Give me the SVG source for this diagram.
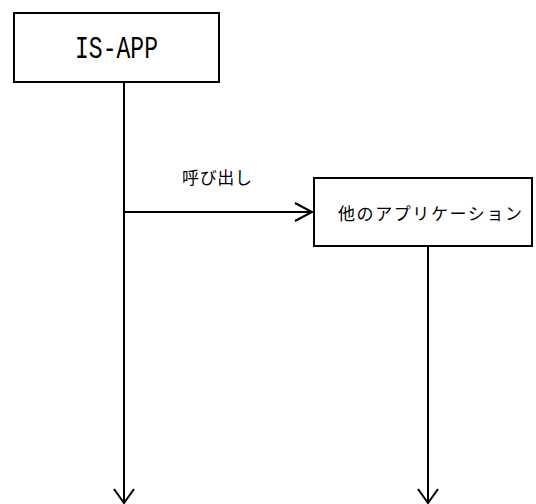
<svg xmlns="http://www.w3.org/2000/svg" width="536" height="504" viewBox="0 0 536 504">
<style>
.box{fill:#fff;stroke:#000;stroke-width:2}
.ln{fill:none;stroke:#000;stroke-width:2}
.jp{font-family:"Noto Sans CJK JP","Noto Sans",sans-serif;font-size:17px;fill:#000}
.mono{font-family:"Liberation Mono","DejaVu Sans Mono",monospace;font-size:22px;fill:#000}
</style>
<rect width="536" height="504" fill="#fff"/>
<g id="connectors">
<line class="ln" x1="124" y1="82" x2="124" y2="503"/>
<polyline class="ln" points="114,489 124,503 134,489"/>
<line class="ln" x1="428" y1="246" x2="428" y2="503"/>
<polyline class="ln" points="418,489 428,503 438,489"/>
<line class="ln" x1="124" y1="212" x2="312" y2="212"/>
<polyline class="ln" points="295,203 312,212 295,221"/>
<text class="jp" x="182" y="184" textLength="70" lengthAdjust="spacing">呼び出し</text>
</g>
<g id="is-app">
<rect class="box" x="14" y="13" width="205" height="69"/>
<text class="mono" transform="translate(75,58) scale(1,1.4)" x="0" y="0" textLength="83" lengthAdjust="spacingAndGlyphs">IS-APP</text>
</g>
<g id="other-app">
<rect class="box" x="314" y="178" width="218" height="68"/>
<text class="jp" x="338" y="220" textLength="184" lengthAdjust="spacing">他のアプリケーション</text>
</g>
</svg>
